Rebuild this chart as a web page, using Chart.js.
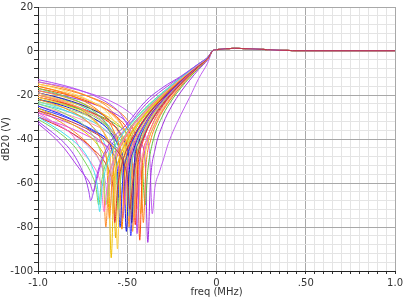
<!DOCTYPE html>
<html>
<head>
<meta charset="utf-8">
<script src="https://cdn.jsdelivr.net/npm/chart.js@4.4.1/dist/chart.umd.min.js"></script>
<style>
  html, body { margin: 0; padding: 0; background: #fff; }
  canvas { display: block; }
</style>
</head>
<body>
<canvas id="chart" width="406" height="298"></canvas>
<script>
// tick labels
const xTickVals = [-1, -0.5, 0, 0.5, 1];
const xTickText = ["-1.0", "-.50", "0", ".50", "1.0"];
const yTickVals = [20, 0, -20, -40, -60, -80, -100];
const yTickText = ["20", "0", "-20", "-40", "-60", "-80", "-100"];

// [freq MHz, dB20], one array per run
const c01 = [[-1,-32],[-0.92,-37],[-0.85,-42],[-0.8,-47],[-0.76,-53],[-0.73,-59],[-0.715,-64],[-0.705,-68],[-0.69,-64.4],[-0.665,-54.8],[-0.6,-42],[-0.5,-33],[-0.4,-23],[-0.3,-16.5],[-0.2,-11.5],[-0.1,-5.8],[-0.05,-2.9]];
const c02 = [[-1,-30],[-0.9,-35],[-0.8,-41],[-0.74,-46],[-0.7,-52],[-0.675,-58],[-0.665,-63],[-0.655,-73],[-0.64,-61.6],[-0.615,-52],[-0.55,-40.7],[-0.5,-35],[-0.4,-26.2],[-0.3,-18.8],[-0.2,-12.2],[-0.1,-5.9],[-0.05,-2.95]];
const c03 = [[-1,-28],[-0.9,-33],[-0.8,-39],[-0.76,-45],[-0.7,-51],[-0.66,-57],[-0.645,-62],[-0.63,-73],[-0.615,-63.4],[-0.59,-52.9],[-0.5,-37.6],[-0.4,-27.6],[-0.3,-19.7],[-0.2,-12.6],[-0.1,-6.2],[-0.05,-3.05]];
const c04 = [[-1,-24],[-0.85,-28.4],[-0.7,-37.5],[-0.66,-43.6],[-0.635,-52.1],[-0.62,-70],[-0.605,-59.5],[-0.58,-49.9],[-0.5,-36.7],[-0.4,-27],[-0.3,-19.2],[-0.2,-12.4],[-0.1,-6],[-0.05,-2.95]];
const c05 = [[-1,-22],[-0.85,-26],[-0.7,-34],[-0.64,-42],[-0.615,-50.5],[-0.6,-76],[-0.585,-58.3],[-0.56,-48.7],[-0.5,-38.1],[-0.4,-27.5],[-0.3,-19.5],[-0.2,-12.5],[-0.1,-6.1],[-0.05,-3]];
const c06 = [[-1,-26],[-0.85,-31.5],[-0.7,-39.5],[-0.63,-47],[-0.605,-55],[-0.59,-94],[-0.575,-61],[-0.55,-50.5],[-0.5,-40.4],[-0.4,-28.8],[-0.3,-20.3],[-0.2,-13],[-0.1,-6.3],[-0.05,-3.1]];
const c07 = [[-1,-19],[-0.85,-22.9],[-0.7,-29.9],[-0.62,-39.5],[-0.595,-48],[-0.58,-74],[-0.565,-57.1],[-0.54,-47.5],[-0.5,-39.7],[-0.4,-28.2],[-0.3,-19.8],[-0.2,-12.7],[-0.1,-6.1],[-0.05,-3.05]];
const c08 = [[-1,-30],[-0.85,-35.5],[-0.75,-40.5],[-0.7,-44],[-0.63,-50],[-0.595,-56],[-0.58,-62],[-0.57,-78],[-0.555,-62.9],[-0.53,-51.6],[-0.5,-44.3],[-0.4,-30.6],[-0.3,-21.3],[-0.2,-13.5],[-0.1,-6.5],[-0.05,-3.25]];
const c09 = [[-1,-21],[-0.85,-24.6],[-0.7,-30.8],[-0.595,-42],[-0.57,-50.5],[-0.555,-90],[-0.54,-55.7],[-0.515,-46],[-0.45,-34.7],[-0.4,-29.1],[-0.3,-20.3],[-0.2,-12.9],[-0.1,-6.2],[-0.05,-3.05]];
const c10 = [[-1,-17],[-0.85,-20.6],[-0.7,-26.6],[-0.59,-38.1],[-0.565,-46.6],[-0.55,-72],[-0.535,-55.4],[-0.51,-45.7],[-0.45,-35],[-0.4,-29.3],[-0.3,-20.3],[-0.2,-12.9],[-0.1,-6.2],[-0.05,-3.05]];
const c11 = [[-1,-25],[-0.85,-29.5],[-0.7,-36],[-0.6,-42],[-0.58,-46.3],[-0.555,-54.8],[-0.54,-80],[-0.525,-57.8],[-0.5,-47.4],[-0.45,-37.4],[-0.4,-30.9],[-0.3,-21.3],[-0.2,-13.4],[-0.1,-6.5],[-0.05,-3.15]];
const c12 = [[-1,-16],[-0.85,-19.3],[-0.7,-24.8],[-0.6,-32.5],[-0.57,-37.4],[-0.545,-45.9],[-0.53,-81],[-0.515,-54.2],[-0.49,-44.5],[-0.45,-36.7],[-0.4,-30.2],[-0.3,-20.8],[-0.2,-13.1],[-0.1,-6.3],[-0.05,-3.15]];
const c13 = [[-1,-28],[-0.85,-32],[-0.7,-38],[-0.6,-45],[-0.56,-50],[-0.54,-58],[-0.525,-76],[-0.51,-60],[-0.485,-48.7],[-0.45,-40.5],[-0.4,-33],[-0.3,-22.4],[-0.2,-14],[-0.1,-6.7],[-0.05,-3.3]];
const c14 = [[-1,-20],[-0.85,-23.2],[-0.7,-28.4],[-0.6,-35.1],[-0.555,-41.7],[-0.53,-50.2],[-0.515,-70],[-0.5,-53.2],[-0.475,-43.6],[-0.4,-31],[-0.3,-21.1],[-0.2,-13.3],[-0.1,-6.4],[-0.05,-3.15]];
const c15 = [[-1,-22],[-0.85,-25.1],[-0.7,-30.1],[-0.6,-36.3],[-0.545,-43.9],[-0.52,-52.4],[-0.505,-82],[-0.49,-55.6],[-0.465,-45.1],[-0.4,-33],[-0.3,-22.1],[-0.2,-13.8],[-0.1,-6.6],[-0.05,-3.25]];
const c16 = [[-1,-15],[-0.85,-18.1],[-0.7,-23],[-0.6,-29],[-0.54,-37],[-0.515,-45.5],[-0.5,-77],[-0.485,-52.3],[-0.46,-42.6],[-0.4,-32],[-0.3,-21.5],[-0.2,-13.4],[-0.1,-6.4],[-0.05,-3.15]];
const c17 = [[-1,-24],[-0.85,-27.1],[-0.7,-31.9],[-0.6,-37.7],[-0.535,-46.1],[-0.51,-54.6],[-0.495,-75],[-0.48,-55],[-0.455,-44.5],[-0.4,-33.7],[-0.3,-22.4],[-0.2,-13.95],[-0.1,-6.65],[-0.05,-3.25]];
const c18 = [[-1,-18],[-0.85,-21],[-0.7,-25.7],[-0.6,-31.3],[-0.53,-40.1],[-0.505,-48.7],[-0.49,-80],[-0.475,-51.7],[-0.45,-42],[-0.4,-32.7],[-0.3,-21.7],[-0.2,-13.55],[-0.1,-6.5],[-0.05,-3.2]];
const c19 = [[-1,-27],[-0.85,-31],[-0.7,-36.5],[-0.6,-42],[-0.525,-50],[-0.5,-57.7],[-0.485,-72],[-0.47,-60.4],[-0.445,-48.2],[-0.4,-37.6],[-0.3,-24.4],[-0.2,-15],[-0.1,-7.1],[-0.05,-3.45]];
const c20 = [[-1,-19],[-0.85,-21.9],[-0.7,-26.4],[-0.6,-31.5],[-0.515,-41.4],[-0.49,-49.9],[-0.475,-78],[-0.46,-50.7],[-0.435,-41.1],[-0.4,-34],[-0.3,-22.2],[-0.2,-13.75],[-0.1,-6.55],[-0.05,-3.2]];
const c21 = [[-1,-23],[-0.85,-25.9],[-0.7,-30.3],[-0.6,-35.2],[-0.51,-45.5],[-0.485,-54],[-0.47,-74],[-0.455,-53.4],[-0.43,-42.9],[-0.4,-36.2],[-0.3,-23.2],[-0.2,-14.3],[-0.1,-6.8],[-0.05,-3.3]];
const c22 = [[-1,-16],[-0.85,-18.85],[-0.7,-23],[-0.6,-27.75],[-0.5,-38.65],[-0.475,-47.15],[-0.46,-76],[-0.445,-49.7],[-0.42,-40.1],[-0.36,-29.5],[-0.3,-22.7],[-0.2,-13.95],[-0.1,-6.6],[-0.05,-3.25]];
const c23 = [[-1,-21],[-0.85,-23.8],[-0.7,-27.9],[-0.6,-32.5],[-0.55,-36.1],[-0.495,-43.7],[-0.47,-52.2],[-0.455,-79],[-0.44,-52.4],[-0.415,-41.9],[-0.36,-31.2],[-0.3,-23.8],[-0.2,-14.5],[-0.1,-6.9],[-0.05,-3.35]];
const c24 = [[-1,-13],[-0.85,-15.75],[-0.7,-19.8],[-0.6,-24.1],[-0.54,-28.3],[-0.485,-35.9],[-0.46,-44.4],[-0.445,-83],[-0.43,-48.8],[-0.405,-39.1],[-0.36,-30.6],[-0.3,-23.2],[-0.2,-14.2],[-0.1,-6.7],[-0.05,-3.3]];
const c25 = [[-1,-25],[-0.85,-28.5],[-0.7,-33],[-0.6,-37.5],[-0.54,-41.5],[-0.48,-48.5],[-0.455,-56.5],[-0.44,-72],[-0.425,-54.3],[-0.4,-43],[-0.36,-34],[-0.3,-25.4],[-0.2,-15.35],[-0.1,-7.2],[-0.05,-3.5]];
const c26 = [[-1,-17],[-0.85,-19.6],[-0.7,-23.5],[-0.6,-27.5],[-0.5,-35.2],[-0.47,-40.1],[-0.445,-48.6],[-0.43,-86],[-0.415,-50.7],[-0.39,-40.2],[-0.35,-31.8],[-0.3,-24.9],[-0.2,-15],[-0.1,-7],[-0.05,-3.45]];
const c27 = [[-1,-20],[-0.85,-22.6],[-0.7,-26.4],[-0.6,-30.3],[-0.5,-37.7],[-0.465,-43.2],[-0.44,-51.7],[-0.425,-74],[-0.41,-53.3],[-0.385,-41.9],[-0.34,-32.1],[-0.3,-26.2],[-0.2,-15.6],[-0.1,-7.3],[-0.05,-3.55]];
const c28 = [[-1,-15],[-0.85,-17.5],[-0.7,-21.15],[-0.6,-24.8],[-0.5,-31.3],[-0.45,-38.4],[-0.425,-46.9],[-0.41,-78],[-0.395,-52.2],[-0.37,-40.9],[-0.33,-31.9],[-0.3,-27.2],[-0.2,-16],[-0.1,-7.4],[-0.05,-3.6]];
const c29 = [[-1,-22],[-0.85,-24.5],[-0.7,-28.1],[-0.6,-31.6],[-0.5,-37.6],[-0.44,-45.6],[-0.415,-54.1],[-0.4,-70],[-0.385,-54.3],[-0.36,-42.2],[-0.3,-29.1],[-0.25,-22.3],[-0.2,-16.8],[-0.1,-7.75],[-0.05,-3.75]];
const c30 = [[-1,-18],[-0.85,-20.45],[-0.7,-23.8],[-0.6,-27.15],[-0.5,-32.6],[-0.425,-41.8],[-0.4,-50.3],[-0.385,-87],[-0.37,-58.9],[-0.345,-45],[-0.3,-33.2],[-0.25,-24.9],[-0.2,-18.6],[-0.1,-8.4],[-0.05,-4.05]];
const c31 = [[-1,-14],[-0.85,-16.3],[-0.7,-19.5],[-0.6,-22.5],[-0.5,-27.2],[-0.45,-31],[-0.4,-38.1],[-0.375,-46.6],[-0.36,-74],[-0.345,-62],[-0.32,-55],[-0.3,-50],[-0.27,-42],[-0.2,-29],[-0.15,-21],[-0.1,-12.5],[-0.05,-5.5]];
const c32 = [[-1,-29],[-0.9,-33],[-0.8,-38],[-0.7,-45],[-0.65,-51],[-0.625,-58],[-0.61,-66],[-0.595,-59],[-0.57,-49.3],[-0.5,-37.4],[-0.4,-27.3],[-0.3,-19.4],[-0.2,-12.45],[-0.1,-6.05],[-0.05,-3]];
const c33 = [[-1,-20],[-0.85,-23.7],[-0.7,-30.2],[-0.605,-40.8],[-0.58,-49.3],[-0.565,-85],[-0.55,-56.3],[-0.525,-46.6],[-0.45,-34],[-0.4,-28.7],[-0.3,-20.1],[-0.2,-12.8],[-0.1,-6.2],[-0.05,-3.05]];
const c34 = [[-1,-26],[-0.85,-30],[-0.7,-35.5],[-0.6,-41],[-0.52,-49],[-0.495,-57],[-0.48,-84],[-0.465,-57],[-0.44,-45.7],[-0.4,-36.7],[-0.3,-23.7],[-0.2,-14.6],[-0.1,-6.9],[-0.05,-3.4]];
const c35 = [[-1,-19],[-0.85,-22.2],[-0.7,-27.5],[-0.6,-34.5],[-0.56,-40.6],[-0.535,-49.1],[-0.52,-65],[-0.505,-53.5],[-0.48,-43.9],[-0.4,-30.7],[-0.3,-21],[-0.2,-13.2],[-0.1,-6.35],[-0.05,-3.1]];
const c36 = [[-1,-30],[-0.85,-34],[-0.7,-39.5],[-0.6,-44],[-0.55,-47.5],[-0.49,-54],[-0.465,-61.3],[-0.45,-68],[-0.435,-60.9],[-0.41,-47.9],[-0.35,-34],[-0.3,-26.8],[-0.2,-16.1],[-0.1,-7.6],[-0.05,-3.65]];
const c37 = [[-1,-31],[-0.9,-36],[-0.8,-43],[-0.74,-50],[-0.7,-56],[-0.675,-62],[-0.66,-70],[-0.645,-60],[-0.62,-51],[-0.55,-40.5],[-0.5,-35],[-0.4,-26],[-0.3,-18.7],[-0.2,-12.1],[-0.1,-5.9],[-0.05,-2.95]];
const c38 = [[-1,-27],[-0.9,-31],[-0.8,-36.5],[-0.7,-44],[-0.66,-49],[-0.635,-56],[-0.62,-80],[-0.605,-60],[-0.58,-50.5],[-0.5,-37],[-0.4,-27.2],[-0.3,-19.3],[-0.2,-12.4],[-0.1,-6],[-0.05,-2.95]];
const c39 = [[-1,-33],[-0.92,-38.5],[-0.85,-44.5],[-0.8,-50],[-0.75,-55.5],[-0.71,-60],[-0.69,-64],[-0.675,-60],[-0.65,-52],[-0.6,-44],[-0.5,-34.5],[-0.4,-24.5],[-0.3,-17.5],[-0.2,-11.8],[-0.1,-5.8],[-0.05,-2.9]];
const c40 = [[-1,-21],[-0.85,-24.1],[-0.7,-29.1],[-0.6,-35.3],[-0.545,-42.9],[-0.52,-51.4],[-0.505,-68],[-0.49,-52.6],[-0.465,-42.9],[-0.4,-31.6],[-0.3,-21.3],[-0.2,-13.4],[-0.1,-6.4],[-0.05,-3.15]];
const c41 = [[-1,-14],[-0.85,-16.9],[-0.7,-21.3],[-0.6,-26.2],[-0.51,-36.5],[-0.485,-45],[-0.47,-82],[-0.455,-50.4],[-0.43,-40.75],[-0.4,-34.5],[-0.3,-22.3],[-0.2,-13.8],[-0.1,-6.6],[-0.05,-3.2]];
const c42 = [[-1,-23],[-0.85,-26.9],[-0.7,-33.9],[-0.62,-43.5],[-0.595,-52],[-0.58,-72],[-0.565,-57.1],[-0.54,-47.5],[-0.5,-39.7],[-0.4,-28.2],[-0.3,-19.8],[-0.2,-12.7],[-0.1,-6.1],[-0.05,-3.05]];

// passband part, all runs sit on top of each other here
const tail = [[-0.02,0.2],[0,0.6],[0.1,1.2],[0.22,0.9],[0.35,0.35],[0.5,0.15],[1,0.15]];

// first entry is drawn on top (it colours the shared passband line)
const runs = [c19,c01,c02,c03,c04,c05,c06,c07,c08,c09,c10,c11,c12,c13,c14,c15,c16,c17,c18,c20,c21,
              c22,c23,c24,c25,c26,c27,c28,c29,c30,c31,c32,c33,c34,c35,c36,c37,c38,c39,c40,c41,c42];
const runColors = [
  "#c03848","#a040f0","#40e0f0","#ff70d0","#90e070","#ff9020","#f0c000","#ffb070","#e03030",
  "#ffd040","#70d050","#2030ff","#ff8000","#d040d0","#ff8080","#1010e0","#ffe060","#50d0e0",
  "#ff9a30","#3020b0","#a0e080","#ffa040","#ff3020","#b050f0","#ff90b0","#ff5010","#f0d020",
  "#ff8020","#60c040","#a030e0","#c060f0","#c090f0","#e8b000","#4040ff","#30c0d0","#e050e0",
  "#78d858","#ff8c28","#b040e8","#80d860","#ff9830","#60e0e8"
];

const isMajorX = v => Math.abs(v * 2 - Math.round(v * 2)) < 1e-6;
const isMajorY = v => Math.round(v) % 20 === 0;

const datasets = runs.map((run, i) => ({
  data: run.concat(tail).map(p => ({ x: p[0], y: p[1] })),
  borderColor: runColors[i],
  borderWidth: 1,
  pointRadius: 0,
  fill: false,
  cubicInterpolationMode: "monotone"
}));

const font = { family: "DejaVu Sans", size: 10 };

new Chart(document.getElementById("chart").getContext("2d"), {
  type: "line",
  data: { datasets: datasets },
  options: {
    responsive: false,
    animation: false,
    events: [],
    layout: { padding: { top: 7, right: 8, left: 0, bottom: 0 } },
    plugins: { legend: { display: false }, tooltip: { enabled: false } },
    scales: {
      x: {
        type: "linear",
        min: -1,
        max: 1,
        afterFit: s => { s.height = 27; },
        ticks: {
          stepSize: 0.05,
          autoSkip: false,
          maxRotation: 0,
          padding: 3,
          color: "#333",
          font: font,
          callback: v => {
            const k = xTickVals.findIndex(t => Math.abs(t - v) < 1e-6);
            return k >= 0 ? xTickText[k] : "";
          }
        },
        grid: {
          color: c => isMajorX(c.tick.value) ? "#a8a8a8" : "#e4e4e4",
          tickColor: "#333",
          tickLength: 3
        },
        border: { color: "#222", width: 1 },
        title: { display: true, text: "freq (MHz)", color: "#333", font: font, padding: 0 }
      },
      y: {
        min: -100,
        max: 20,
        afterFit: s => { s.width = 38; },
        ticks: {
          stepSize: 4,
          autoSkip: false,
          padding: 1,
          color: "#333",
          font: font,
          callback: v => {
            const k = yTickVals.indexOf(Math.round(v));
            return (k >= 0 && Math.abs(v - Math.round(v)) < 1e-6) ? yTickText[k] : "";
          }
        },
        grid: {
          color: c => isMajorY(c.tick.value) ? "#a8a8a8" : "#e4e4e4",
          tickColor: "#333",
          tickLength: 4
        },
        border: { color: "#222", width: 1 },
        title: { display: true, text: "dB20 (V)", color: "#333", font: font, padding: 0 }
      }
    }
  }
});
</script>
</body>
</html>
